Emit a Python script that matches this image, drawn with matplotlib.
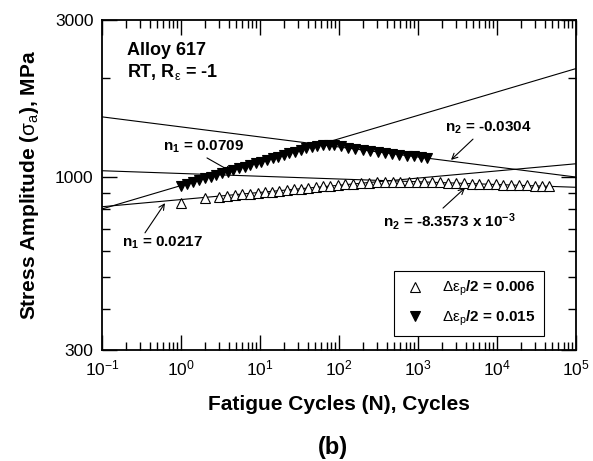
#!/usr/bin/env python3
import numpy as np
from matplotlib import pyplot as plt
from matplotlib import ticker

plt.rcParams['font.family'] = ['Liberation Sans', 'DejaVu Sans']
plt.rcParams['mathtext.fontset'] = 'custom'
plt.rcParams['mathtext.rm'] = 'Liberation Sans'
plt.rcParams['mathtext.it'] = 'Liberation Sans'
plt.rcParams['mathtext.bf'] = 'Liberation Sans:bold'
plt.rcParams['mathtext.default'] = 'regular'
plt.rcParams['axes.unicode_minus'] = False

# Delta eps_p/2 = 0.006 (open up triangles)
cycles_006 = [1, 2, 3, 3.8, 4.8, 6, 7.5, 9.3, 11.5, 14, 17.5, 22, 27, 33, 41, 51, 63, 78, 97,
              120, 150, 190, 240, 300, 380, 480, 600, 760, 960, 1200, 1500, 1900, 2400, 3000,
              3800, 4800, 6000, 7600, 9600, 12000, 15000, 19000, 24000, 30000, 37000, 45000]
stress_006 = [837, 867, 875, 880, 885, 890, 894, 898, 902, 906, 910, 915, 920, 925, 930, 935,
              940, 944, 948, 952, 956, 960, 963, 966, 968, 970, 971, 971, 970, 969, 968, 966,
              964, 962, 960, 958, 956, 954, 952, 950, 949, 947, 946, 945, 944, 943]

# Delta eps_p/2 = 0.015 (filled down triangles)
cycles_015 = [1, 1.2, 1.4, 1.7, 2, 2.4, 2.8, 3.3, 3.9, 4.6, 5.4, 6.4, 7.5, 8.8, 10.4, 12.2, 14.4,
              17, 20, 23.5, 27.7, 32.6, 38.4, 45, 53, 63, 74, 87, 105, 130, 160, 200, 250, 310,
              380, 470, 580, 720, 880, 1080, 1300]
stress_015 = [945, 957, 968, 981, 993, 1005, 1017, 1028, 1041, 1053, 1065, 1078, 1090, 1103, 1116,
              1128, 1142, 1155, 1169, 1182, 1196, 1210, 1224, 1238, 1248, 1255, 1257, 1252, 1245,
              1227, 1220, 1211, 1203, 1195, 1188, 1180, 1173, 1165, 1158, 1151, 1144]

# power-law fits: stress = coef * N**n
fit_coef = [945, 857, 1423, 1028]
fit_exp = [0.0709, 0.0217, -0.0304, -8.3573e-3]

fig = plt.figure(figsize=(5.93, 4.61), dpi=100)
ax = fig.add_axes([102 / 593, 1 - 350 / 461, 474 / 593, 330 / 461])

# fitted lines over whole x range
n_line = np.logspace(-1, 5, 200)
for c, n in zip(fit_coef, fit_exp):
    ax.plot(n_line, c * n_line ** n, color='black', lw=0.8)

ax.plot(cycles_006, stress_006, linestyle='none', marker='^', ms=7, mfc='white',
        mec='black', mew=0.8, label=r'$\mathrm{\Delta\varepsilon_p}$/2 = 0.006')
ax.plot(cycles_015, stress_015, linestyle='none', marker='v', ms=7, mfc='black',
        mec='black', mew=0.8, label=r'$\mathrm{\Delta\varepsilon_p}$/2 = 0.015')

ax.set_xscale('log')
ax.set_yscale('log')
ax.set_xlim(1e-1, 1e5)
ax.set_ylim(300, 3000)

ax.xaxis.set_major_locator(ticker.LogLocator(base=10, numticks=20))
ax.xaxis.set_minor_locator(ticker.LogLocator(base=10, subs=np.arange(2, 10), numticks=20))
ax.xaxis.set_minor_formatter(ticker.NullFormatter())
ax.yaxis.set_major_locator(ticker.FixedLocator([300, 1000, 3000]))
ax.yaxis.set_major_formatter(ticker.FixedFormatter(['300', '1000', '3000']))
ax.yaxis.set_minor_locator(ticker.FixedLocator([400, 500, 600, 700, 800, 900, 2000]))
ax.yaxis.set_minor_formatter(ticker.NullFormatter())

ax.tick_params(which='both', direction='in', top=True, right=True, labelsize=12.5, width=1)
ax.tick_params(which='major', length=11, pad=6)
ax.tick_params(which='minor', length=6)
for s in ax.spines.values():
    s.set_linewidth(1.3)

ax.set_xlabel('Fatigue Cycles (N), Cycles', fontsize=15, fontweight='bold', labelpad=12)
ax.set_ylabel(r'Stress Amplitude ($\mathrm{\sigma_a}$), MPa', fontsize=15, fontweight='bold',
              labelpad=10)

ax.text(0.053, 0.909, 'Alloy 617', transform=ax.transAxes, fontsize=13, fontweight='bold',
        va='center')
ax.text(0.053, 0.842, r'RT, R$_\mathrm{\varepsilon}$ = -1', transform=ax.transAxes, fontsize=13,
        fontweight='bold', va='center')

# annotations for exponents (text, then arrow pointing at the fit line)
arrow = dict(arrowstyle='->', color='black', lw=0.8, shrinkA=0, shrinkB=0)
labels = [r'n$_1$ = 0.0709', r'n$_2$ = -0.0304', r'n$_2$ = -8.3573 x 10$^{-3}$', r'n$_1$ = 0.0217']
label_xy = [(0.129, 0.615), (0.724, 0.673), (0.593, 0.388), (0.042, 0.324)]
arrow_from = [(0.2215, 0.582), (0.7827, 0.639), (0.7194, 0.430), (0.0907, 0.355)]
arrow_to = [(0.2743, 0.539), (0.7363, 0.576), (0.7658, 0.491), (0.1329, 0.445)]
for lab, txy, a0, a1 in zip(labels, label_xy, arrow_from, arrow_to):
    ax.text(txy[0], txy[1], lab, transform=ax.transAxes, fontsize=11, fontweight='bold',
            va='center')
    ax.annotate('', xy=a1, xytext=a0, xycoords='axes fraction', textcoords='axes fraction',
                arrowprops=arrow)

leg = ax.legend(loc='lower right', bbox_to_anchor=(0.9325, 0.0424), borderaxespad=0,
                fancybox=False, edgecolor='black', framealpha=1, prop={'weight': 'bold', 'size': 11},
                handletextpad=1.0, borderpad=0.55, labelspacing=0.65, handlelength=1.6)
leg.get_frame().set_linewidth(0.8)

fig.text(333 / 593, 1 - 447 / 461, '(b)', fontsize=17, fontweight='bold', ha='center', va='center')

plt.savefig('out.png', dpi=100)
